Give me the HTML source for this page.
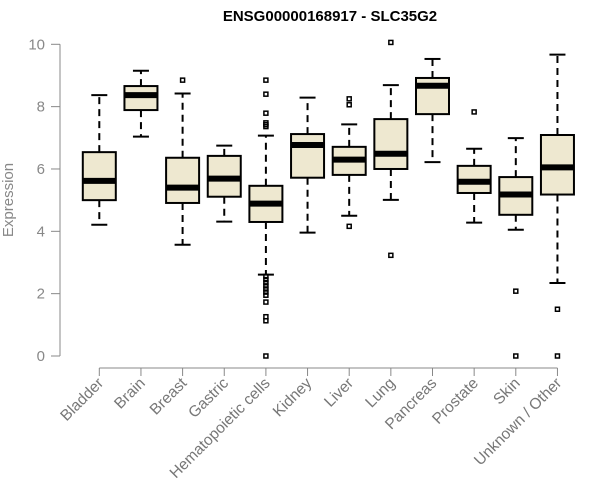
<!DOCTYPE html>
<html><head><meta charset="utf-8"><style>
body{margin:0;background:#fff;}
svg{display:block;font-family:"Liberation Sans",Arial,sans-serif;}
</style></head><body>
<svg id="chart" width="600" height="500">
<text x="330" y="21" text-anchor="middle" font-size="15" font-weight="bold" fill="#000">ENSG00000168917 - SLC35G2</text>
<text transform="translate(13,200) rotate(-90)" text-anchor="middle" font-size="15" fill="#888">Expression</text>
<g id="axes"></g><g id="marks"></g>
</svg>
<script>
const categories=["Bladder","Brain","Breast","Gastric","Hematopoietic cells","Kidney","Liver","Lung","Pancreas","Prostate","Skin","Unknown / Other"];
const whiskerLow=[4.21,7.04,3.57,4.31,2.61,3.96,4.50,5.01,6.22,4.28,4.05,2.34];
const q1=[5.0,7.89,4.91,5.11,4.30,5.72,5.81,6.0,7.76,5.23,4.53,5.18];
const medians=[5.62,8.37,5.40,5.69,4.89,6.77,6.30,6.49,8.67,5.59,5.18,6.05];
const q3=[6.54,8.66,6.36,6.42,5.46,7.12,6.71,7.60,8.92,6.10,5.74,7.09];
const whiskerHigh=[8.37,9.15,8.42,6.75,7.07,8.29,7.43,8.69,9.53,6.65,6.99,9.67];
const outliers=[[],[],[8.85],[],[8.85,8.40,7.79,7.48,7.42,7.36,2.55,2.45,2.35,2.25,2.15,2.05,1.95,1.73,1.26,1.13,0],[],[8.25,8.06,4.16],[10.06,3.23],[],[7.83],[2.08,0],[1.50,0]];
const yTicks=[0,2,4,6,8,10];
const NS="http://www.w3.org/2000/svg";
const y=v=>356-v*31.17;
const x=i=>99.3+i*41.65;
const axes=document.getElementById('axes'),marks=document.getElementById('marks');
function mk(p,tag,attrs){const e=document.createElementNS(NS,tag);for(const k in attrs)e.setAttribute(k,attrs[k]);p.appendChild(e);return e;}
let e=mk(axes,'line',{x1:60,x2:60,y1:y(10),y2:y(0),stroke:'#888'});


yTicks.forEach(t=>{
 let l=mk(axes,'line',{x1:51,x2:60,y1:y(t),y2:y(t),stroke:'#888'});
 
 
 let tx=mk(axes,'text',{x:45,y:y(t)+5,'text-anchor':'end','font-size':15,fill:'#888'});
 tx.textContent=t;
 
 
});
e=mk(axes,'line',{x1:x(0),x2:x(categories.length-1),y1:368,y2:368,stroke:'#888'});


const hw=16.5;
categories.forEach((c,i)=>{
 const cx=x(i);
 let l=mk(axes,'line',{x1:cx,x2:cx,y1:368,y2:376,stroke:'#888'});
 
 
 let tx=mk(axes,'text',{transform:`translate(${cx+5},${384}) rotate(-45)`,'text-anchor':'end','font-size':15.5,fill:'#777'});
 tx.textContent=c;
 
 
 const g=mk(marks,'g',{});
 
 
 mk(g,'line',{x1:cx,x2:cx,y1:y(q3[i]),y2:y(whiskerHigh[i]),stroke:'#000','stroke-width':2,'stroke-dasharray':'7,5'});
 mk(g,'line',{x1:cx,x2:cx,y1:y(q1[i]),y2:y(whiskerLow[i]),stroke:'#000','stroke-width':2,'stroke-dasharray':'7,5'});
 mk(g,'line',{x1:cx-8,x2:cx+8,y1:y(whiskerHigh[i]),y2:y(whiskerHigh[i]),stroke:'#000','stroke-width':2});
 mk(g,'line',{x1:cx-8,x2:cx+8,y1:y(whiskerLow[i]),y2:y(whiskerLow[i]),stroke:'#000','stroke-width':2});
 mk(g,'rect',{x:cx-hw,y:y(q3[i]),width:2*hw,height:y(q1[i])-y(q3[i]),fill:'#EEE8D0',stroke:'#000','stroke-width':2});
 mk(g,'line',{x1:cx-hw,x2:cx+hw,y1:y(medians[i]),y2:y(medians[i]),stroke:'#000','stroke-width':6});
 outliers[i].forEach(v=>{
  let r=mk(g,'rect',{x:cx-2,y:y(v)-2,width:4,height:4,fill:'none',stroke:'#000','stroke-width':1.5});
  
  
 });
});
</script>
</body></html>
